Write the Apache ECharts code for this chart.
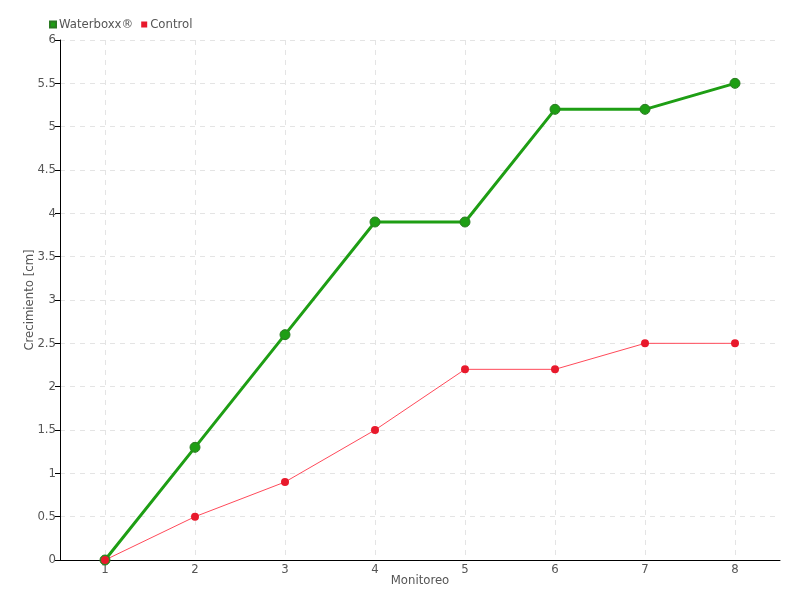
<!DOCTYPE html>
<html><head><meta charset="utf-8">
<script src="https://cdn.jsdelivr.net/npm/echarts@6/dist/echarts.min.js"></script>
<style>html,body{margin:0;padding:0;background:#fff}#c{width:800px;height:600px}</style>
</head><body><div id="c"></div>
<script>
const categories = ['1','2','3','4','5','6','7','8'];
const waterboxx = [0, 1.3, 2.6, 3.9, 3.9, 5.2, 5.2, 5.5];
const control = [0, 0.5, 0.9, 1.5, 2.2, 2.2, 2.5, 2.5];
const FONT = '"DejaVu Sans Condensed", "Liberation Sans Narrow", sans-serif';
const chart = echarts.init(document.getElementById('c'));
chart.setOption({
  animation: false,
  textStyle: {fontFamily: FONT},
  legend: {
    left: 44, top: 13, itemWidth: 6, itemHeight: 6, itemGap: 8, icon: 'rect',
    textStyle: {color: '#555', fontSize: 13, fontFamily: FONT, padding: [0,0,0,-2]},
    data: ['Waterboxx®', 'Control']
  },
  grid: {left: 60, right: 20, top: 40, bottom: 40, containLabel: false, outerBoundsMode: 'none'},
  xAxis: {
    type: 'category', data: categories, boundaryGap: true,
    name: 'Monitoreo', nameLocation: 'middle', nameGap: 14, nameMoveOverlap: false,
    nameTextStyle: {color: '#555', fontSize: 13, fontFamily: FONT},
    axisLine: {lineStyle: {color: '#000', width: 1}},
    axisTick: {alignWithLabel: true, length: 5, lineStyle: {color: '#000'}},
    axisLabel: {color: '#555', fontSize: 13, margin: 3, fontFamily: FONT},
    splitLine: {show: true, alignWithLabel: true, interval: 0, lineStyle: {color: '#e4e4e4', type: [5,5]}}
  },
  yAxis: {
    type: 'value', min: 0, max: 6, interval: 0.5,
    name: 'Crecimiento [cm]', nameLocation: 'middle', nameGap: 24, nameMoveOverlap: false,
    nameTextStyle: {color: '#555', fontSize: 13, fontFamily: FONT},
    axisLine: {show: true, lineStyle: {color: '#000', width: 1}},
    axisTick: {show: true, length: 5, lineStyle: {color: '#000'}},
    axisLabel: {color: '#555', fontSize: 13, margin: 4, fontFamily: FONT},
    splitLine: {show: true, lineStyle: {color: '#e4e4e4', type: [5,5]}}
  },
  series: [
    {
      name: 'Waterboxx®', type: 'line', data: waterboxx,
      symbol: 'circle', symbolSize: 10,
      lineStyle: {color: '#1e9e14', width: 3},
      itemStyle: {color: '#1e9e14', borderColor: '#2a7a22', borderWidth: 1}
    },
    {
      name: 'Control', type: 'line', data: control,
      symbol: 'circle', symbolSize: 8,
      lineStyle: {color: '#ff4a5a', width: 1},
      itemStyle: {color: '#e8192c', borderColor: '#e8192c', borderWidth: 0}
    }
  ]
});
</script></body></html>
